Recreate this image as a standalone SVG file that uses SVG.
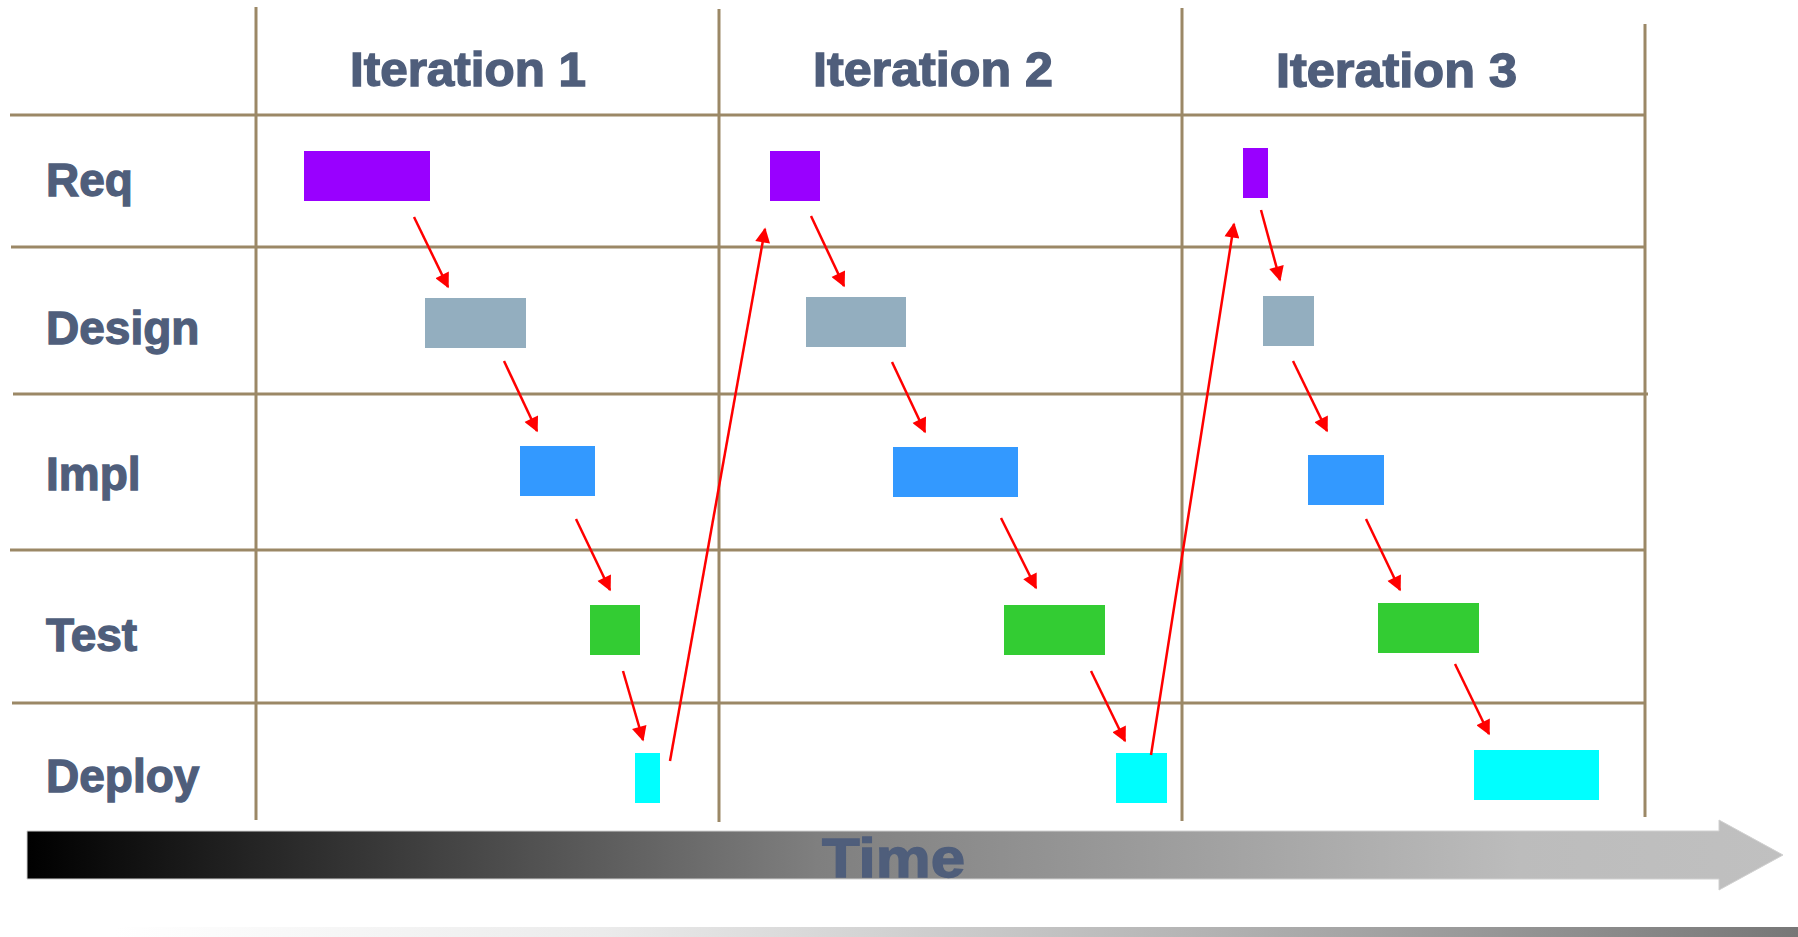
<svg xmlns="http://www.w3.org/2000/svg" width="1798" height="937" viewBox="0 0 1798 937">
<style>
.grid{stroke:#9b8866;stroke-width:3;fill:none}
.hdr{font-family:"Liberation Sans",Arial,sans-serif;font-weight:bold;font-size:48px;fill:#4f5e7b;stroke:#4f5e7b;stroke-width:1.4}
.lbl{font-family:"Liberation Sans",Arial,sans-serif;font-weight:bold;font-size:46px;fill:#4f5e7b;stroke:#4f5e7b;stroke-width:1.3}
.time{font-family:"Liberation Sans",Arial,sans-serif;font-weight:bold;font-size:56px;fill:#4f5e7b;stroke:#4f5e7b;stroke-width:1.4}
.req{fill:#9900ff}.des{fill:#93aebf}.imp{fill:#3399ff}.tst{fill:#33cc33}.dep{fill:#00ffff}
.con{stroke:#ff0000;stroke-width:2.5;fill:none;marker-end:url(#ah)}
</style>
<defs>
<marker id="ah" viewBox="0 0 10 10" refX="9" refY="5" markerWidth="7" markerHeight="6" markerUnits="strokeWidth" orient="auto">
<path d="M0,0 L10,5 L0,10 z" fill="#ff0000"/>
</marker>
<linearGradient id="tg" gradientUnits="userSpaceOnUse" x1="27" y1="0" x2="1783" y2="0">
<stop offset="0" stop-color="#000000"/>
<stop offset="0.45" stop-color="#7f7f7f"/>
<stop offset="0.85" stop-color="#bcbcbc"/>
<stop offset="1" stop-color="#c0c0c0"/>
</linearGradient>
<linearGradient id="bg" gradientUnits="userSpaceOnUse" x1="115" y1="0" x2="1798" y2="0">
<stop offset="0" stop-color="#ffffff"/>
<stop offset="0.29" stop-color="#ebebeb"/>
<stop offset="0.47" stop-color="#d0d0d0"/>
<stop offset="0.8" stop-color="#9a9a9a"/>
<stop offset="1" stop-color="#777777"/>
</linearGradient>
</defs>
<rect width="1798" height="937" fill="#ffffff"/>
<g id="grid">
<line class="grid" x1="256" y1="7" x2="256" y2="820"/>
<line class="grid" x1="719" y1="9" x2="719" y2="822"/>
<line class="grid" x1="1182" y1="8" x2="1182" y2="821"/>
<line class="grid" x1="1645" y1="24" x2="1645" y2="817"/>
<line class="grid" x1="10" y1="115" x2="1645" y2="115"/>
<line class="grid" x1="11" y1="247" x2="1645" y2="247"/>
<line class="grid" x1="13" y1="394" x2="1648" y2="394"/>
<line class="grid" x1="10" y1="550" x2="1645" y2="550"/>
<line class="grid" x1="12" y1="703" x2="1645" y2="703"/>
</g>
<g id="headers">
<text class="hdr" x="350" y="86" textLength="236" lengthAdjust="spacingAndGlyphs">Iteration 1</text>
<text class="hdr" x="813" y="86" textLength="240" lengthAdjust="spacingAndGlyphs">Iteration 2</text>
<text class="hdr" x="1276" y="87" textLength="241" lengthAdjust="spacingAndGlyphs">Iteration 3</text>
</g>
<g id="labels">
<text class="lbl" x="46" y="196">Req</text>
<text class="lbl" x="46" y="344">Design</text>
<text class="lbl" x="46" y="490">Impl</text>
<text class="lbl" x="46" y="651">Test</text>
<text class="lbl" x="46" y="792">Deploy</text>
</g>
<g id="iter1">
<rect id="req1" class="req" x="304" y="151" width="126" height="50"/>
<rect id="des1" class="des" x="425" y="298" width="101" height="50"/>
<rect id="imp1" class="imp" x="520" y="446" width="75" height="50"/>
<rect id="tst1" class="tst" x="590" y="605" width="50" height="50"/>
<rect id="dep1" class="dep" x="635" y="753" width="25" height="50"/>
</g>
<g id="iter2">
<rect id="req2" class="req" x="770" y="151" width="50" height="50"/>
<rect id="des2" class="des" x="806" y="297" width="100" height="50"/>
<rect id="imp2" class="imp" x="893" y="447" width="125" height="50"/>
<rect id="tst2" class="tst" x="1004" y="605" width="101" height="50"/>
<rect id="dep2" class="dep" x="1116" y="753" width="51" height="50"/>
</g>
<g id="iter3">
<rect id="req3" class="req" x="1243" y="148" width="25" height="50"/>
<rect id="des3" class="des" x="1263" y="296" width="51" height="50"/>
<rect id="imp3" class="imp" x="1308" y="455" width="76" height="50"/>
<rect id="tst3" class="tst" x="1378" y="603" width="101" height="50"/>
<rect id="dep3" class="dep" x="1474" y="750" width="125" height="50"/>
</g>
<g id="connectors">
<line class="con" x1="414" y1="217" x2="448" y2="287"/>
<line class="con" x1="504" y1="361" x2="537" y2="431"/>
<line class="con" x1="576" y1="519" x2="610" y2="590"/>
<line class="con" x1="623" y1="671" x2="643" y2="740"/>
<line class="con" x1="670" y1="761" x2="765" y2="229"/>
<line class="con" x1="811" y1="216" x2="844" y2="286"/>
<line class="con" x1="892" y1="362" x2="925" y2="432"/>
<line class="con" x1="1001" y1="518" x2="1036" y2="588"/>
<line class="con" x1="1091" y1="671" x2="1125" y2="741"/>
<line class="con" x1="1151" y1="755" x2="1234" y2="224"/>
<line class="con" x1="1261" y1="210" x2="1280" y2="280"/>
<line class="con" x1="1293" y1="361" x2="1327" y2="431"/>
<line class="con" x1="1366" y1="519" x2="1400" y2="590"/>
<line class="con" x1="1455" y1="664" x2="1489" y2="734"/>
</g>
<g id="time-axis">
<path d="M27,831 H1719 V820 L1783,855 L1719,890 V879 H27 Z" fill="url(#tg)" stroke="#d0d0d0" stroke-width="1"/>
<text class="time" x="822" y="877" textLength="143" lengthAdjust="spacingAndGlyphs">Time</text>
</g>
<rect x="115" y="927" width="1683" height="10" fill="url(#bg)"/>
</svg>
